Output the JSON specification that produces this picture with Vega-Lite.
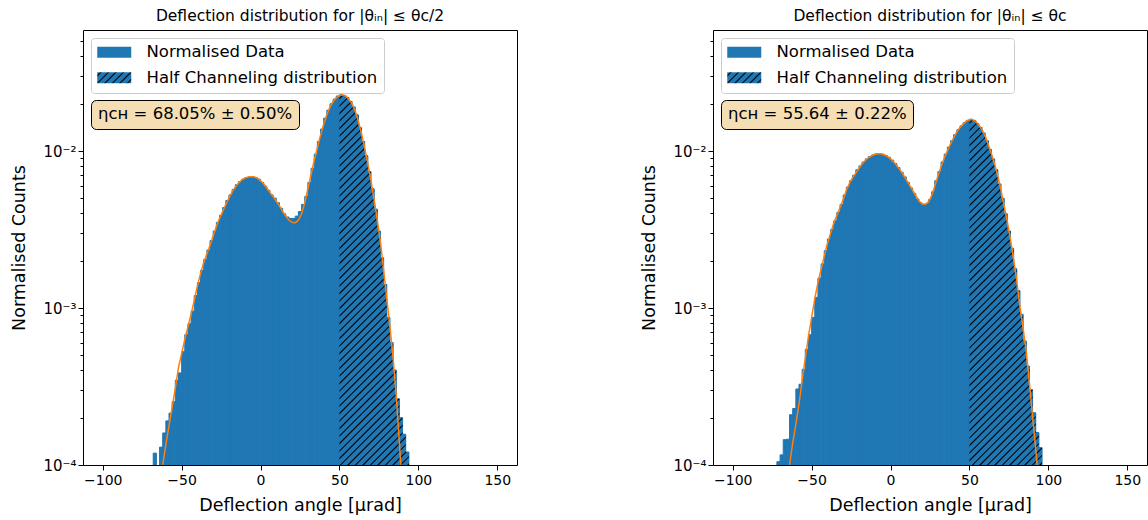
{
"$schema": "https://vega.github.io/schema/vega-lite/v6.json",
"background": "white",
"padding": {"left": 10, "top": 8, "right": 2, "bottom": 4},
"spacing": 122,
"datasets": {
"bars_l": [
{"x0":-68,"x1":-66,"v":0.000119},{"x0":-64,"x1":-62,"v":0.000130},{"x0":-62,"x1":-60,"v":0.000160},{"x0":-60,"x1":-58,"v":0.000191},{"x0":-58,"x1":-56,"v":0.000214},{"x0":-56,"x1":-54,"v":0.000253},{"x0":-54,"x1":-52,"v":0.000347},{"x0":-52,"x1":-50,"v":0.000386},{"x0":-50,"x1":-48,"v":0.000527},{"x0":-48,"x1":-46,"v":0.000676},{"x0":-46,"x1":-44,"v":0.000794},{"x0":-44,"x1":-42,"v":0.000955},{"x0":-42,"x1":-40,"v":0.00120},{"x0":-40,"x1":-38,"v":0.00145},{"x0":-38,"x1":-36,"v":0.00174},{"x0":-36,"x1":-34,"v":0.00204},{"x0":-34,"x1":-32,"v":0.00234},{"x0":-32,"x1":-30,"v":0.00269},{"x0":-30,"x1":-28,"v":0.00309},{"x0":-28,"x1":-26,"v":0.00351},{"x0":-26,"x1":-24,"v":0.00389},{"x0":-24,"x1":-22,"v":0.00437},{"x0":-22,"x1":-20,"v":0.00484},{"x0":-20,"x1":-18,"v":0.00525},{"x0":-18,"x1":-16,"v":0.00569},{"x0":-16,"x1":-14,"v":0.00610},{"x0":-14,"x1":-12,"v":0.00638},{"x0":-12,"x1":-10,"v":0.00661},{"x0":-10,"x1":-8,"v":0.00676},{"x0":-8,"x1":-6,"v":0.00684},{"x0":-6,"x1":-4,"v":0.00687},{"x0":-4,"x1":-2,"v":0.00676},{"x0":-2,"x1":0,"v":0.00661},{"x0":0,"x1":2,"v":0.00631},{"x0":2,"x1":4,"v":0.00596},{"x0":4,"x1":6,"v":0.00562},{"x0":6,"x1":8,"v":0.00525},{"x0":8,"x1":10,"v":0.00501},{"x0":10,"x1":12,"v":0.00468},{"x0":12,"x1":14,"v":0.00432},{"x0":14,"x1":16,"v":0.00398},{"x0":16,"x1":18,"v":0.00380},{"x0":18,"x1":20,"v":0.00372},{"x0":20,"x1":22,"v":0.00372},{"x0":22,"x1":24,"v":0.00385},{"x0":24,"x1":26,"v":0.00412},{"x0":26,"x1":28,"v":0.00457},{"x0":28,"x1":30,"v":0.00513},{"x0":30,"x1":32,"v":0.00631},{"x0":32,"x1":34,"v":0.00776},{"x0":34,"x1":36,"v":0.00955},{"x0":36,"x1":38,"v":0.0115},{"x0":38,"x1":40,"v":0.0138},{"x0":40,"x1":42,"v":0.0162},{"x0":42,"x1":44,"v":0.0182},{"x0":44,"x1":46,"v":0.0200},{"x0":46,"x1":48,"v":0.0214},{"x0":48,"x1":50,"v":0.0224},{"x0":50,"x1":52,"v":0.0228},{"x0":52,"x1":54,"v":0.0226},{"x0":54,"x1":56,"v":0.0219},{"x0":56,"x1":58,"v":0.0207},{"x0":58,"x1":60,"v":0.0191},{"x0":60,"x1":62,"v":0.0170},{"x0":62,"x1":64,"v":0.0141},{"x0":64,"x1":66,"v":0.0115},{"x0":66,"x1":68,"v":0.00933},{"x0":68,"x1":70,"v":0.00741},{"x0":70,"x1":72,"v":0.00575},{"x0":72,"x1":74,"v":0.00427},{"x0":74,"x1":76,"v":0.00309},{"x0":76,"x1":78,"v":0.00209},{"x0":78,"x1":80,"v":0.00141},{"x0":80,"x1":82,"v":0.000871},{"x0":82,"x1":84,"v":0.000603},{"x0":84,"x1":86,"v":0.000403},{"x0":86,"x1":88,"v":0.000264},{"x0":88,"x1":90,"v":0.000200},{"x0":90,"x1":92,"v":0.000157},{"x0":92,"x1":94,"v":0.000121}
],
"hatch_l": [
{"x":50,"v":0.0228},{"x":52,"v":0.0226},{"x":54,"v":0.0219},{"x":56,"v":0.0207},{"x":58,"v":0.0191},{"x":60,"v":0.0170},{"x":62,"v":0.0141},{"x":64,"v":0.0115},{"x":66,"v":0.00933},{"x":68,"v":0.00741},{"x":70,"v":0.00575},{"x":72,"v":0.00427},{"x":74,"v":0.00309},{"x":76,"v":0.00209},{"x":78,"v":0.00141},{"x":80,"v":0.000871},{"x":82,"v":0.000603},{"x":84,"v":0.000403},{"x":86,"v":0.000264},{"x":88,"v":0.000200},{"x":90,"v":0.000157},{"x":92,"v":0.000121},{"x":94,"v":0.000121}
],
"fit_l": [
{"x":-64,"v":0.0000759},{"x":-62,"v":0.000100},{"x":-60,"v":0.000135},{"x":-58,"v":0.000178},{"x":-56,"v":0.000234},{"x":-54,"v":0.000309},{"x":-52,"v":0.000417},{"x":-50,"v":0.000513},{"x":-48,"v":0.000631},{"x":-46,"v":0.000759},{"x":-44,"v":0.000912},{"x":-42,"v":0.00112},{"x":-40,"v":0.00138},{"x":-38,"v":0.00166},{"x":-36,"v":0.00195},{"x":-34,"v":0.00221},{"x":-32,"v":0.00251},{"x":-30,"v":0.00288},{"x":-28,"v":0.00331},{"x":-26,"v":0.00372},{"x":-24,"v":0.00412},{"x":-22,"v":0.00457},{"x":-20,"v":0.00501},{"x":-18,"v":0.00550},{"x":-16,"v":0.00589},{"x":-14,"v":0.00624},{"x":-12,"v":0.00653},{"x":-10,"v":0.00673},{"x":-8,"v":0.00682},{"x":-6,"v":0.00687},{"x":-4,"v":0.00684},{"x":-2,"v":0.00671},{"x":0,"v":0.00646},{"x":2,"v":0.00617},{"x":4,"v":0.00582},{"x":6,"v":0.00543},{"x":8,"v":0.00513},{"x":10,"v":0.00479},{"x":12,"v":0.00447},{"x":14,"v":0.00412},{"x":16,"v":0.00385},{"x":18,"v":0.00363},{"x":20,"v":0.00351},{"x":22,"v":0.00349},{"x":24,"v":0.00363},{"x":26,"v":0.00398},{"x":28,"v":0.00468},{"x":30,"v":0.00575},{"x":32,"v":0.00708},{"x":34,"v":0.00871},{"x":36,"v":0.01047},{"x":38,"v":0.01259},{"x":40,"v":0.01479},{"x":42,"v":0.0170},{"x":44,"v":0.0191},{"x":46,"v":0.0207},{"x":48,"v":0.0219},{"x":50,"v":0.02254},{"x":52,"v":0.0228},{"x":54,"v":0.0224},{"x":56,"v":0.0214},{"x":58,"v":0.0200},{"x":60,"v":0.0180},{"x":62,"v":0.01549},{"x":64,"v":0.01288},{"x":66,"v":0.01047},{"x":68,"v":0.00832},{"x":70,"v":0.00646},{"x":72,"v":0.00490},{"x":74,"v":0.00363},{"x":76,"v":0.00263},{"x":78,"v":0.00174},{"x":80,"v":0.00115},{"x":82,"v":0.000759},{"x":84,"v":0.000479},{"x":86,"v":0.000275},{"x":88,"v":0.000138},{"x":90,"v":0.0000631}
],
"bars_r": [
{"x0":-72,"x1":-70,"v":0.000105},{"x0":-70,"x1":-68,"v":0.000116},{"x0":-68,"x1":-66,"v":0.000145},{"x0":-66,"x1":-64,"v":0.000146},{"x0":-64,"x1":-62,"v":0.000209},{"x0":-62,"x1":-60,"v":0.000229},{"x0":-60,"x1":-58,"v":0.000305},{"x0":-58,"x1":-56,"v":0.000327},{"x0":-56,"x1":-54,"v":0.000407},{"x0":-54,"x1":-52,"v":0.000546},{"x0":-52,"x1":-50,"v":0.000676},{"x0":-50,"x1":-48,"v":0.000871},{"x0":-48,"x1":-46,"v":0.00117},{"x0":-46,"x1":-44,"v":0.00155},{"x0":-44,"x1":-42,"v":0.00191},{"x0":-42,"x1":-40,"v":0.00232},{"x0":-40,"x1":-38,"v":0.00275},{"x0":-38,"x1":-36,"v":0.00316},{"x0":-36,"x1":-34,"v":0.00359},{"x0":-34,"x1":-32,"v":0.00407},{"x0":-32,"x1":-30,"v":0.00457},{"x0":-30,"x1":-28,"v":0.00525},{"x0":-28,"x1":-26,"v":0.00589},{"x0":-26,"x1":-24,"v":0.00646},{"x0":-24,"x1":-22,"v":0.00700},{"x0":-22,"x1":-20,"v":0.00759},{"x0":-20,"x1":-18,"v":0.00804},{"x0":-18,"x1":-16,"v":0.00851},{"x0":-16,"x1":-14,"v":0.00891},{"x0":-14,"x1":-12,"v":0.00923},{"x0":-12,"x1":-10,"v":0.00944},{"x0":-10,"x1":-8,"v":0.00957},{"x0":-8,"x1":-6,"v":0.00962},{"x0":-6,"x1":-4,"v":0.00955},{"x0":-4,"x1":-2,"v":0.00938},{"x0":-2,"x1":0,"v":0.00912},{"x0":0,"x1":2,"v":0.00875},{"x0":2,"x1":4,"v":0.00832},{"x0":4,"x1":6,"v":0.00785},{"x0":6,"x1":8,"v":0.00733},{"x0":8,"x1":10,"v":0.00684},{"x0":10,"x1":12,"v":0.00631},{"x0":12,"x1":14,"v":0.00582},{"x0":14,"x1":16,"v":0.00537},{"x0":16,"x1":18,"v":0.00495},{"x0":18,"x1":20,"v":0.00468},{"x0":20,"x1":22,"v":0.00457},{"x0":22,"x1":24,"v":0.00462},{"x0":24,"x1":26,"v":0.00490},{"x0":26,"x1":28,"v":0.00550},{"x0":28,"x1":30,"v":0.00646},{"x0":30,"x1":32,"v":0.00741},{"x0":32,"x1":34,"v":0.00851},{"x0":34,"x1":36,"v":0.00955},{"x0":36,"x1":38,"v":0.01059},{"x0":38,"x1":40,"v":0.01161},{"x0":40,"x1":42,"v":0.01274},{"x0":42,"x1":44,"v":0.01365},{"x0":44,"x1":46,"v":0.01445},{"x0":46,"x1":48,"v":0.01514},{"x0":48,"x1":50,"v":0.01567},{"x0":50,"x1":52,"v":0.01592},{"x0":52,"x1":54,"v":0.01567},{"x0":54,"x1":56,"v":0.01496},{"x0":56,"x1":58,"v":0.01413},{"x0":58,"x1":60,"v":0.01303},{"x0":60,"x1":62,"v":0.01161},{"x0":62,"x1":64,"v":0.01023},{"x0":64,"x1":66,"v":0.00891},{"x0":66,"x1":68,"v":0.00759},{"x0":68,"x1":70,"v":0.00617},{"x0":70,"x1":72,"v":0.00501},{"x0":72,"x1":74,"v":0.00398},{"x0":74,"x1":76,"v":0.00309},{"x0":76,"x1":78,"v":0.00240},{"x0":78,"x1":80,"v":0.00178},{"x0":80,"x1":82,"v":0.00129},{"x0":82,"x1":84,"v":0.000912},{"x0":84,"x1":86,"v":0.000617},{"x0":86,"x1":88,"v":0.000427},{"x0":88,"x1":90,"v":0.000302},{"x0":90,"x1":92,"v":0.000215},{"x0":92,"x1":94,"v":0.000161},{"x0":94,"x1":96,"v":0.000129}
],
"hatch_r": [
{"x":50,"v":0.01592},{"x":52,"v":0.01567},{"x":54,"v":0.01496},{"x":56,"v":0.01413},{"x":58,"v":0.01303},{"x":60,"v":0.01161},{"x":62,"v":0.01023},{"x":64,"v":0.00891},{"x":66,"v":0.00759},{"x":68,"v":0.00617},{"x":70,"v":0.00501},{"x":72,"v":0.00398},{"x":74,"v":0.00309},{"x":76,"v":0.00240},{"x":78,"v":0.00178},{"x":80,"v":0.00129},{"x":82,"v":0.000912},{"x":84,"v":0.000617},{"x":86,"v":0.000427},{"x":88,"v":0.000302},{"x":90,"v":0.000215},{"x":92,"v":0.000161},{"x":94,"v":0.000129},{"x":96,"v":0.000129}
],
"fit_r": [
{"x":-66,"v":0.0000724},{"x":-64,"v":0.000100},{"x":-62,"v":0.000138},{"x":-60,"v":0.000182},{"x":-58,"v":0.000245},{"x":-56,"v":0.000347},{"x":-54,"v":0.000479},{"x":-52,"v":0.000661},{"x":-50,"v":0.000871},{"x":-48,"v":0.00115},{"x":-46,"v":0.00145},{"x":-44,"v":0.00176},{"x":-42,"v":0.00214},{"x":-40,"v":0.00257},{"x":-38,"v":0.00299},{"x":-36,"v":0.00347},{"x":-34,"v":0.00389},{"x":-32,"v":0.00437},{"x":-30,"v":0.00490},{"x":-28,"v":0.00562},{"x":-26,"v":0.00624},{"x":-24,"v":0.00676},{"x":-22,"v":0.00724},{"x":-20,"v":0.00776},{"x":-18,"v":0.00832},{"x":-16,"v":0.00871},{"x":-14,"v":0.00908},{"x":-12,"v":0.00933},{"x":-10,"v":0.00953},{"x":-8,"v":0.00962},{"x":-6,"v":0.00960},{"x":-4,"v":0.00946},{"x":-2,"v":0.00925},{"x":0,"v":0.00891},{"x":2,"v":0.00851},{"x":4,"v":0.00809},{"x":6,"v":0.00759},{"x":8,"v":0.00708},{"x":10,"v":0.00656},{"x":12,"v":0.00607},{"x":14,"v":0.00562},{"x":16,"v":0.00519},{"x":18,"v":0.00481},{"x":20,"v":0.00460},{"x":22,"v":0.00457},{"x":24,"v":0.00473},{"x":26,"v":0.00519},{"x":28,"v":0.00596},{"x":30,"v":0.00692},{"x":32,"v":0.00794},{"x":34,"v":0.00902},{"x":36,"v":0.0100},{"x":38,"v":0.01109},{"x":40,"v":0.01216},{"x":42,"v":0.01324},{"x":44,"v":0.01413},{"x":46,"v":0.01486},{"x":48,"v":0.01549},{"x":50,"v":0.01585},{"x":52,"v":0.01585},{"x":54,"v":0.01542},{"x":56,"v":0.01462},{"x":58,"v":0.01365},{"x":60,"v":0.01245},{"x":62,"v":0.01096},{"x":64,"v":0.00955},{"x":66,"v":0.00822},{"x":68,"v":0.00692},{"x":70,"v":0.00562},{"x":72,"v":0.00447},{"x":74,"v":0.00355},{"x":76,"v":0.00272},{"x":78,"v":0.00204},{"x":80,"v":0.00148},{"x":82,"v":0.00102},{"x":84,"v":0.000741},{"x":86,"v":0.000525},{"x":88,"v":0.000331},{"x":90,"v":0.000204},{"x":92,"v":0.000126},{"x":94,"v":0.0000759}
]
},
"hconcat": [
{
"width": 434, "height": 435,
"title": {"text": "Deflection distribution for |θᵢₙ| ≤ θc/2"},
"layer": [
{"data": {"name": "bars_l"},
"mark": {"type": "bar", "color": "#1f77b4", "stroke": "#1f77b4", "strokeWidth": 1, "clip": true},
"encoding": {
"x": {"field": "x0", "type": "quantitative", "title": "Deflection angle [μrad]", "scale": {"domain": [-112.5, 162.5], "nice": false, "zero": false}, "axis": {"values": [-100, -50, 0, 50, 100, 150], "format": "d"}},
"x2": {"field": "x1"},
"y": {"field": "v", "type": "quantitative", "title": "Normalised Counts", "scale": {"type": "log", "domain": [0.0001, 0.059], "nice": false}, "axis": {"values": [0.0001,0.0002,0.0003,0.0004,0.0005,0.0006,0.0007,0.0008,0.0009,0.001,0.002,0.003,0.004,0.005,0.006,0.007,0.008,0.009,0.01,0.02,0.03,0.04,0.05], "labelExpr": "datum.value==0.0001?'10⁻⁴':datum.value==0.001?'10⁻³':datum.value==0.01?'10⁻²':''", "labelOverlap": false, "labelFontSize": 15, "tickSize": {"condition": {"test": "datum.value==0.0001||datum.value==0.001||datum.value==0.01", "value": 5}, "value": 3}}},
"y2": {"datum": 0.0001}
}},
{"data": {"name": "hatch_l"},
"mark": {"type": "area", "interpolate": "step-after", "clip": true, "opacity": 1, "fill": {"gradient": "linear", "x1": 0, "y1": 0, "x2": 0.3671, "y2": 1.9571, "stops": [
{"offset":0.003,"color":"#1f77b4"},{"offset":0.005,"color":"#000"},{"offset":0.007,"color":"#1f77b4"},
{"offset":0.013,"color":"#1f77b4"},{"offset":0.015,"color":"#000"},{"offset":0.017,"color":"#1f77b4"},
{"offset":0.023,"color":"#1f77b4"},{"offset":0.025,"color":"#000"},{"offset":0.027,"color":"#1f77b4"},
{"offset":0.033,"color":"#1f77b4"},{"offset":0.035,"color":"#000"},{"offset":0.037,"color":"#1f77b4"},
{"offset":0.043,"color":"#1f77b4"},{"offset":0.045,"color":"#000"},{"offset":0.047,"color":"#1f77b4"},
{"offset":0.053,"color":"#1f77b4"},{"offset":0.055,"color":"#000"},{"offset":0.057,"color":"#1f77b4"},
{"offset":0.063,"color":"#1f77b4"},{"offset":0.065,"color":"#000"},{"offset":0.067,"color":"#1f77b4"},
{"offset":0.073,"color":"#1f77b4"},{"offset":0.075,"color":"#000"},{"offset":0.077,"color":"#1f77b4"},
{"offset":0.083,"color":"#1f77b4"},{"offset":0.085,"color":"#000"},{"offset":0.087,"color":"#1f77b4"},
{"offset":0.093,"color":"#1f77b4"},{"offset":0.095,"color":"#000"},{"offset":0.097,"color":"#1f77b4"},
{"offset":0.103,"color":"#1f77b4"},{"offset":0.105,"color":"#000"},{"offset":0.107,"color":"#1f77b4"},
{"offset":0.113,"color":"#1f77b4"},{"offset":0.115,"color":"#000"},{"offset":0.117,"color":"#1f77b4"},
{"offset":0.123,"color":"#1f77b4"},{"offset":0.125,"color":"#000"},{"offset":0.127,"color":"#1f77b4"},
{"offset":0.133,"color":"#1f77b4"},{"offset":0.135,"color":"#000"},{"offset":0.137,"color":"#1f77b4"},
{"offset":0.143,"color":"#1f77b4"},{"offset":0.145,"color":"#000"},{"offset":0.147,"color":"#1f77b4"},
{"offset":0.153,"color":"#1f77b4"},{"offset":0.155,"color":"#000"},{"offset":0.157,"color":"#1f77b4"},
{"offset":0.163,"color":"#1f77b4"},{"offset":0.165,"color":"#000"},{"offset":0.167,"color":"#1f77b4"},
{"offset":0.173,"color":"#1f77b4"},{"offset":0.175,"color":"#000"},{"offset":0.177,"color":"#1f77b4"},
{"offset":0.183,"color":"#1f77b4"},{"offset":0.185,"color":"#000"},{"offset":0.187,"color":"#1f77b4"},
{"offset":0.193,"color":"#1f77b4"},{"offset":0.195,"color":"#000"},{"offset":0.197,"color":"#1f77b4"},
{"offset":0.203,"color":"#1f77b4"},{"offset":0.205,"color":"#000"},{"offset":0.207,"color":"#1f77b4"},
{"offset":0.213,"color":"#1f77b4"},{"offset":0.215,"color":"#000"},{"offset":0.217,"color":"#1f77b4"},
{"offset":0.223,"color":"#1f77b4"},{"offset":0.225,"color":"#000"},{"offset":0.227,"color":"#1f77b4"},
{"offset":0.233,"color":"#1f77b4"},{"offset":0.235,"color":"#000"},{"offset":0.237,"color":"#1f77b4"},
{"offset":0.243,"color":"#1f77b4"},{"offset":0.245,"color":"#000"},{"offset":0.247,"color":"#1f77b4"},
{"offset":0.253,"color":"#1f77b4"},{"offset":0.255,"color":"#000"},{"offset":0.257,"color":"#1f77b4"},
{"offset":0.263,"color":"#1f77b4"},{"offset":0.265,"color":"#000"},{"offset":0.267,"color":"#1f77b4"},
{"offset":0.273,"color":"#1f77b4"},{"offset":0.275,"color":"#000"},{"offset":0.277,"color":"#1f77b4"},
{"offset":0.283,"color":"#1f77b4"},{"offset":0.285,"color":"#000"},{"offset":0.287,"color":"#1f77b4"},
{"offset":0.293,"color":"#1f77b4"},{"offset":0.295,"color":"#000"},{"offset":0.297,"color":"#1f77b4"},
{"offset":0.303,"color":"#1f77b4"},{"offset":0.305,"color":"#000"},{"offset":0.307,"color":"#1f77b4"},
{"offset":0.313,"color":"#1f77b4"},{"offset":0.315,"color":"#000"},{"offset":0.317,"color":"#1f77b4"},
{"offset":0.323,"color":"#1f77b4"},{"offset":0.325,"color":"#000"},{"offset":0.327,"color":"#1f77b4"},
{"offset":0.333,"color":"#1f77b4"},{"offset":0.335,"color":"#000"},{"offset":0.337,"color":"#1f77b4"},
{"offset":0.343,"color":"#1f77b4"},{"offset":0.345,"color":"#000"},{"offset":0.347,"color":"#1f77b4"},
{"offset":0.353,"color":"#1f77b4"},{"offset":0.355,"color":"#000"},{"offset":0.357,"color":"#1f77b4"},
{"offset":0.363,"color":"#1f77b4"},{"offset":0.365,"color":"#000"},{"offset":0.367,"color":"#1f77b4"},
{"offset":0.373,"color":"#1f77b4"},{"offset":0.375,"color":"#000"},{"offset":0.377,"color":"#1f77b4"},
{"offset":0.383,"color":"#1f77b4"},{"offset":0.385,"color":"#000"},{"offset":0.387,"color":"#1f77b4"},
{"offset":0.393,"color":"#1f77b4"},{"offset":0.395,"color":"#000"},{"offset":0.397,"color":"#1f77b4"},
{"offset":0.403,"color":"#1f77b4"},{"offset":0.405,"color":"#000"},{"offset":0.407,"color":"#1f77b4"},
{"offset":0.413,"color":"#1f77b4"},{"offset":0.415,"color":"#000"},{"offset":0.417,"color":"#1f77b4"},
{"offset":0.423,"color":"#1f77b4"},{"offset":0.425,"color":"#000"},{"offset":0.427,"color":"#1f77b4"},
{"offset":0.433,"color":"#1f77b4"},{"offset":0.435,"color":"#000"},{"offset":0.437,"color":"#1f77b4"},
{"offset":0.443,"color":"#1f77b4"},{"offset":0.445,"color":"#000"},{"offset":0.447,"color":"#1f77b4"},
{"offset":0.453,"color":"#1f77b4"},{"offset":0.455,"color":"#000"},{"offset":0.457,"color":"#1f77b4"},
{"offset":0.463,"color":"#1f77b4"},{"offset":0.465,"color":"#000"},{"offset":0.467,"color":"#1f77b4"},
{"offset":0.473,"color":"#1f77b4"},{"offset":0.475,"color":"#000"},{"offset":0.477,"color":"#1f77b4"},
{"offset":0.483,"color":"#1f77b4"},{"offset":0.485,"color":"#000"},{"offset":0.487,"color":"#1f77b4"},
{"offset":0.493,"color":"#1f77b4"},{"offset":0.495,"color":"#000"},{"offset":0.497,"color":"#1f77b4"},
{"offset":0.503,"color":"#1f77b4"},{"offset":0.505,"color":"#000"},{"offset":0.507,"color":"#1f77b4"},
{"offset":0.513,"color":"#1f77b4"},{"offset":0.515,"color":"#000"},{"offset":0.517,"color":"#1f77b4"},
{"offset":0.523,"color":"#1f77b4"},{"offset":0.525,"color":"#000"},{"offset":0.527,"color":"#1f77b4"},
{"offset":0.533,"color":"#1f77b4"},{"offset":0.535,"color":"#000"},{"offset":0.537,"color":"#1f77b4"},
{"offset":0.543,"color":"#1f77b4"},{"offset":0.545,"color":"#000"},{"offset":0.547,"color":"#1f77b4"},
{"offset":0.553,"color":"#1f77b4"},{"offset":0.555,"color":"#000"},{"offset":0.557,"color":"#1f77b4"},
{"offset":0.563,"color":"#1f77b4"},{"offset":0.565,"color":"#000"},{"offset":0.567,"color":"#1f77b4"},
{"offset":0.573,"color":"#1f77b4"},{"offset":0.575,"color":"#000"},{"offset":0.577,"color":"#1f77b4"},
{"offset":0.583,"color":"#1f77b4"},{"offset":0.585,"color":"#000"},{"offset":0.587,"color":"#1f77b4"},
{"offset":0.593,"color":"#1f77b4"},{"offset":0.595,"color":"#000"},{"offset":0.597,"color":"#1f77b4"}
]}},
"encoding": {
"x": {"field": "x", "type": "quantitative", "title": "Deflection angle [μrad]"},
"y": {"field": "v", "type": "quantitative", "title": "Normalised Counts"},
"y2": {"datum": 0.0001}
}},
{"data": {"name": "fit_l"},
"mark": {"type": "line", "strokeWidth": 1.5, "clip": true},
"encoding": {
"x": {"field": "x", "type": "quantitative", "title": "Deflection angle [μrad]"},
"y": {"field": "v", "type": "quantitative", "title": "Normalised Counts"},
"stroke": {"datum": "Normalised Data", "type": "nominal", "scale": {"domain": ["Normalised Data", "Half Channeling distribution"], "range": ["#ff7f0e", "#ff7f0e"]},
"legend": {"orient": "top-left", "offset": 7.5, "title": null, "symbolType": "M-1,-0.7H3.25V0.7H-1Z", "symbolSize": 256, "symbolStrokeWidth": 0, "labelFontSize": 16.5, "labelOffset": 33, "rowPadding": 8.5, "padding": 6, "fillColor": "rgba(255,255,255,0.8)", "strokeColor": "#cccccc", "cornerRadius": 3, "labelLimit": 400,
"encode": {"symbols": {"update": {"opacity": {"value": 1}, "fill": [{"test": "datum.value === 'Half Channeling distribution'", "value": {"gradient": "linear", "x1": 0, "y1": 0, "x2": 19.9, "y2": 6.56, "stops": [
{"offset":0.003,"color":"#1f77b4"},{"offset":0.005,"color":"#000"},{"offset":0.007,"color":"#1f77b4"},
{"offset":0.013,"color":"#1f77b4"},{"offset":0.015,"color":"#000"},{"offset":0.017,"color":"#1f77b4"},
{"offset":0.023,"color":"#1f77b4"},{"offset":0.025,"color":"#000"},{"offset":0.027,"color":"#1f77b4"},
{"offset":0.033,"color":"#1f77b4"},{"offset":0.035,"color":"#000"},{"offset":0.037,"color":"#1f77b4"},
{"offset":0.043,"color":"#1f77b4"},{"offset":0.045,"color":"#000"},{"offset":0.047,"color":"#1f77b4"},
{"offset":0.053,"color":"#1f77b4"},{"offset":0.055,"color":"#000"},{"offset":0.057,"color":"#1f77b4"},
{"offset":0.063,"color":"#1f77b4"},{"offset":0.065,"color":"#000"},{"offset":0.067,"color":"#1f77b4"}
]}}, {"value": "#1f77b4"}]}}}}},
"strokeDash": {"datum": "ηᴄʜ = 68.05% ± 0.50%", "type": "nominal", "scale": {"range": [[1, 0]]},
"legend": {"orient": "top-left", "offset": 7.5, "title": null, "symbolType": "circle", "symbolSize": 0.1, "symbolOpacity": 0, "symbolStrokeWidth": 0, "labelOffset": -15.5, "labelFontSize": 16.5, "padding": 6, "fillColor": "#f5deb3", "strokeColor": "#000000", "cornerRadius": 5, "labelLimit": 400}}
}}
]
},
{
"width": 434, "height": 435,
"title": {"text": "Deflection distribution for |θᵢₙ| ≤ θc"},
"layer": [
{"data": {"name": "bars_r"},
"mark": {"type": "bar", "color": "#1f77b4", "stroke": "#1f77b4", "strokeWidth": 1, "clip": true},
"encoding": {
"x": {"field": "x0", "type": "quantitative", "title": "Deflection angle [μrad]", "scale": {"domain": [-112.5, 162.5], "nice": false, "zero": false}, "axis": {"values": [-100, -50, 0, 50, 100, 150], "format": "d"}},
"x2": {"field": "x1"},
"y": {"field": "v", "type": "quantitative", "title": "Normalised Counts", "scale": {"type": "log", "domain": [0.0001, 0.059], "nice": false}, "axis": {"values": [0.0001,0.0002,0.0003,0.0004,0.0005,0.0006,0.0007,0.0008,0.0009,0.001,0.002,0.003,0.004,0.005,0.006,0.007,0.008,0.009,0.01,0.02,0.03,0.04,0.05], "labelExpr": "datum.value==0.0001?'10⁻⁴':datum.value==0.001?'10⁻³':datum.value==0.01?'10⁻²':''", "labelOverlap": false, "labelFontSize": 15, "tickSize": {"condition": {"test": "datum.value==0.0001||datum.value==0.001||datum.value==0.01", "value": 5}, "value": 3}}},
"y2": {"datum": 0.0001}
}},
{"data": {"name": "hatch_r"},
"mark": {"type": "area", "interpolate": "step-after", "clip": true, "opacity": 1, "fill": {"gradient": "linear", "x1": 0, "y1": 0, "x2": 0.4364, "y2": 2.0778, "stops": [
{"offset":0.003,"color":"#1f77b4"},{"offset":0.005,"color":"#000"},{"offset":0.007,"color":"#1f77b4"},
{"offset":0.013,"color":"#1f77b4"},{"offset":0.015,"color":"#000"},{"offset":0.017,"color":"#1f77b4"},
{"offset":0.023,"color":"#1f77b4"},{"offset":0.025,"color":"#000"},{"offset":0.027,"color":"#1f77b4"},
{"offset":0.033,"color":"#1f77b4"},{"offset":0.035,"color":"#000"},{"offset":0.037,"color":"#1f77b4"},
{"offset":0.043,"color":"#1f77b4"},{"offset":0.045,"color":"#000"},{"offset":0.047,"color":"#1f77b4"},
{"offset":0.053,"color":"#1f77b4"},{"offset":0.055,"color":"#000"},{"offset":0.057,"color":"#1f77b4"},
{"offset":0.063,"color":"#1f77b4"},{"offset":0.065,"color":"#000"},{"offset":0.067,"color":"#1f77b4"},
{"offset":0.073,"color":"#1f77b4"},{"offset":0.075,"color":"#000"},{"offset":0.077,"color":"#1f77b4"},
{"offset":0.083,"color":"#1f77b4"},{"offset":0.085,"color":"#000"},{"offset":0.087,"color":"#1f77b4"},
{"offset":0.093,"color":"#1f77b4"},{"offset":0.095,"color":"#000"},{"offset":0.097,"color":"#1f77b4"},
{"offset":0.103,"color":"#1f77b4"},{"offset":0.105,"color":"#000"},{"offset":0.107,"color":"#1f77b4"},
{"offset":0.113,"color":"#1f77b4"},{"offset":0.115,"color":"#000"},{"offset":0.117,"color":"#1f77b4"},
{"offset":0.123,"color":"#1f77b4"},{"offset":0.125,"color":"#000"},{"offset":0.127,"color":"#1f77b4"},
{"offset":0.133,"color":"#1f77b4"},{"offset":0.135,"color":"#000"},{"offset":0.137,"color":"#1f77b4"},
{"offset":0.143,"color":"#1f77b4"},{"offset":0.145,"color":"#000"},{"offset":0.147,"color":"#1f77b4"},
{"offset":0.153,"color":"#1f77b4"},{"offset":0.155,"color":"#000"},{"offset":0.157,"color":"#1f77b4"},
{"offset":0.163,"color":"#1f77b4"},{"offset":0.165,"color":"#000"},{"offset":0.167,"color":"#1f77b4"},
{"offset":0.173,"color":"#1f77b4"},{"offset":0.175,"color":"#000"},{"offset":0.177,"color":"#1f77b4"},
{"offset":0.183,"color":"#1f77b4"},{"offset":0.185,"color":"#000"},{"offset":0.187,"color":"#1f77b4"},
{"offset":0.193,"color":"#1f77b4"},{"offset":0.195,"color":"#000"},{"offset":0.197,"color":"#1f77b4"},
{"offset":0.203,"color":"#1f77b4"},{"offset":0.205,"color":"#000"},{"offset":0.207,"color":"#1f77b4"},
{"offset":0.213,"color":"#1f77b4"},{"offset":0.215,"color":"#000"},{"offset":0.217,"color":"#1f77b4"},
{"offset":0.223,"color":"#1f77b4"},{"offset":0.225,"color":"#000"},{"offset":0.227,"color":"#1f77b4"},
{"offset":0.233,"color":"#1f77b4"},{"offset":0.235,"color":"#000"},{"offset":0.237,"color":"#1f77b4"},
{"offset":0.243,"color":"#1f77b4"},{"offset":0.245,"color":"#000"},{"offset":0.247,"color":"#1f77b4"},
{"offset":0.253,"color":"#1f77b4"},{"offset":0.255,"color":"#000"},{"offset":0.257,"color":"#1f77b4"},
{"offset":0.263,"color":"#1f77b4"},{"offset":0.265,"color":"#000"},{"offset":0.267,"color":"#1f77b4"},
{"offset":0.273,"color":"#1f77b4"},{"offset":0.275,"color":"#000"},{"offset":0.277,"color":"#1f77b4"},
{"offset":0.283,"color":"#1f77b4"},{"offset":0.285,"color":"#000"},{"offset":0.287,"color":"#1f77b4"},
{"offset":0.293,"color":"#1f77b4"},{"offset":0.295,"color":"#000"},{"offset":0.297,"color":"#1f77b4"},
{"offset":0.303,"color":"#1f77b4"},{"offset":0.305,"color":"#000"},{"offset":0.307,"color":"#1f77b4"},
{"offset":0.313,"color":"#1f77b4"},{"offset":0.315,"color":"#000"},{"offset":0.317,"color":"#1f77b4"},
{"offset":0.323,"color":"#1f77b4"},{"offset":0.325,"color":"#000"},{"offset":0.327,"color":"#1f77b4"},
{"offset":0.333,"color":"#1f77b4"},{"offset":0.335,"color":"#000"},{"offset":0.337,"color":"#1f77b4"},
{"offset":0.343,"color":"#1f77b4"},{"offset":0.345,"color":"#000"},{"offset":0.347,"color":"#1f77b4"},
{"offset":0.353,"color":"#1f77b4"},{"offset":0.355,"color":"#000"},{"offset":0.357,"color":"#1f77b4"},
{"offset":0.363,"color":"#1f77b4"},{"offset":0.365,"color":"#000"},{"offset":0.367,"color":"#1f77b4"},
{"offset":0.373,"color":"#1f77b4"},{"offset":0.375,"color":"#000"},{"offset":0.377,"color":"#1f77b4"},
{"offset":0.383,"color":"#1f77b4"},{"offset":0.385,"color":"#000"},{"offset":0.387,"color":"#1f77b4"},
{"offset":0.393,"color":"#1f77b4"},{"offset":0.395,"color":"#000"},{"offset":0.397,"color":"#1f77b4"},
{"offset":0.403,"color":"#1f77b4"},{"offset":0.405,"color":"#000"},{"offset":0.407,"color":"#1f77b4"},
{"offset":0.413,"color":"#1f77b4"},{"offset":0.415,"color":"#000"},{"offset":0.417,"color":"#1f77b4"},
{"offset":0.423,"color":"#1f77b4"},{"offset":0.425,"color":"#000"},{"offset":0.427,"color":"#1f77b4"},
{"offset":0.433,"color":"#1f77b4"},{"offset":0.435,"color":"#000"},{"offset":0.437,"color":"#1f77b4"},
{"offset":0.443,"color":"#1f77b4"},{"offset":0.445,"color":"#000"},{"offset":0.447,"color":"#1f77b4"},
{"offset":0.453,"color":"#1f77b4"},{"offset":0.455,"color":"#000"},{"offset":0.457,"color":"#1f77b4"},
{"offset":0.463,"color":"#1f77b4"},{"offset":0.465,"color":"#000"},{"offset":0.467,"color":"#1f77b4"},
{"offset":0.473,"color":"#1f77b4"},{"offset":0.475,"color":"#000"},{"offset":0.477,"color":"#1f77b4"},
{"offset":0.483,"color":"#1f77b4"},{"offset":0.485,"color":"#000"},{"offset":0.487,"color":"#1f77b4"},
{"offset":0.493,"color":"#1f77b4"},{"offset":0.495,"color":"#000"},{"offset":0.497,"color":"#1f77b4"},
{"offset":0.503,"color":"#1f77b4"},{"offset":0.505,"color":"#000"},{"offset":0.507,"color":"#1f77b4"},
{"offset":0.513,"color":"#1f77b4"},{"offset":0.515,"color":"#000"},{"offset":0.517,"color":"#1f77b4"},
{"offset":0.523,"color":"#1f77b4"},{"offset":0.525,"color":"#000"},{"offset":0.527,"color":"#1f77b4"},
{"offset":0.533,"color":"#1f77b4"},{"offset":0.535,"color":"#000"},{"offset":0.537,"color":"#1f77b4"},
{"offset":0.543,"color":"#1f77b4"},{"offset":0.545,"color":"#000"},{"offset":0.547,"color":"#1f77b4"},
{"offset":0.553,"color":"#1f77b4"},{"offset":0.555,"color":"#000"},{"offset":0.557,"color":"#1f77b4"},
{"offset":0.563,"color":"#1f77b4"},{"offset":0.565,"color":"#000"},{"offset":0.567,"color":"#1f77b4"}
]}},
"encoding": {
"x": {"field": "x", "type": "quantitative", "title": "Deflection angle [μrad]"},
"y": {"field": "v", "type": "quantitative", "title": "Normalised Counts"},
"y2": {"datum": 0.0001}
}},
{"data": {"name": "fit_r"},
"mark": {"type": "line", "strokeWidth": 1.5, "clip": true},
"encoding": {
"x": {"field": "x", "type": "quantitative", "title": "Deflection angle [μrad]"},
"y": {"field": "v", "type": "quantitative", "title": "Normalised Counts"},
"stroke": {"datum": "Normalised Data", "type": "nominal", "scale": {"domain": ["Normalised Data", "Half Channeling distribution"], "range": ["#ff7f0e", "#ff7f0e"]},
"legend": {"orient": "top-left", "offset": 7.5, "title": null, "symbolType": "M-1,-0.7H3.25V0.7H-1Z", "symbolSize": 256, "symbolStrokeWidth": 0, "labelFontSize": 16.5, "labelOffset": 33, "rowPadding": 8.5, "padding": 6, "fillColor": "rgba(255,255,255,0.8)", "strokeColor": "#cccccc", "cornerRadius": 3, "labelLimit": 400,
"encode": {"symbols": {"update": {"opacity": {"value": 1}, "fill": [{"test": "datum.value === 'Half Channeling distribution'", "value": {"gradient": "linear", "x1": 0, "y1": 0, "x2": 19.9, "y2": 6.56, "stops": [
{"offset":0.003,"color":"#1f77b4"},{"offset":0.005,"color":"#000"},{"offset":0.007,"color":"#1f77b4"},
{"offset":0.013,"color":"#1f77b4"},{"offset":0.015,"color":"#000"},{"offset":0.017,"color":"#1f77b4"},
{"offset":0.023,"color":"#1f77b4"},{"offset":0.025,"color":"#000"},{"offset":0.027,"color":"#1f77b4"},
{"offset":0.033,"color":"#1f77b4"},{"offset":0.035,"color":"#000"},{"offset":0.037,"color":"#1f77b4"},
{"offset":0.043,"color":"#1f77b4"},{"offset":0.045,"color":"#000"},{"offset":0.047,"color":"#1f77b4"},
{"offset":0.053,"color":"#1f77b4"},{"offset":0.055,"color":"#000"},{"offset":0.057,"color":"#1f77b4"},
{"offset":0.063,"color":"#1f77b4"},{"offset":0.065,"color":"#000"},{"offset":0.067,"color":"#1f77b4"}
]}}, {"value": "#1f77b4"}]}}}}},
"strokeDash": {"datum": "ηᴄʜ = 55.64 ± 0.22%", "type": "nominal", "scale": {"range": [[1, 0]]},
"legend": {"orient": "top-left", "offset": 7.5, "title": null, "symbolType": "circle", "symbolSize": 0.1, "symbolOpacity": 0, "symbolStrokeWidth": 0, "labelOffset": -15.5, "labelFontSize": 16.5, "padding": 6, "fillColor": "#f5deb3", "strokeColor": "#000000", "cornerRadius": 5, "labelLimit": 400}}
}}
]
}
],
"resolve": {"scale": {"stroke": "independent", "strokeDash": "independent"}, "legend": {"stroke": "independent", "strokeDash": "independent"}},
"config": {
"font": "DejaVu Sans",
"view": {"stroke": "#000000", "strokeWidth": 1},
"title": {"fontSize": 15.5, "fontWeight": "normal", "color": "#000000", "offset": 6},
"axis": {"grid": false, "domain": false, "labelFontSize": 14, "labelColor": "#000000", "titleFontSize": 17.5, "titleFontWeight": "normal", "titleColor": "#000000", "tickColor": "#000000", "tickSize": 5, "tickWidth": 1, "labelPadding": 2},
"axisX": {"titlePadding": 9, "labelPadding": 3},
"axisY": {"titlePadding": 14},
"legend": {"labelColor": "#000000", "labelFont": "DejaVu Sans", "layout": {"top-left": {"direction": "vertical", "margin": 7, "anchor": "start"}}}
}
}
